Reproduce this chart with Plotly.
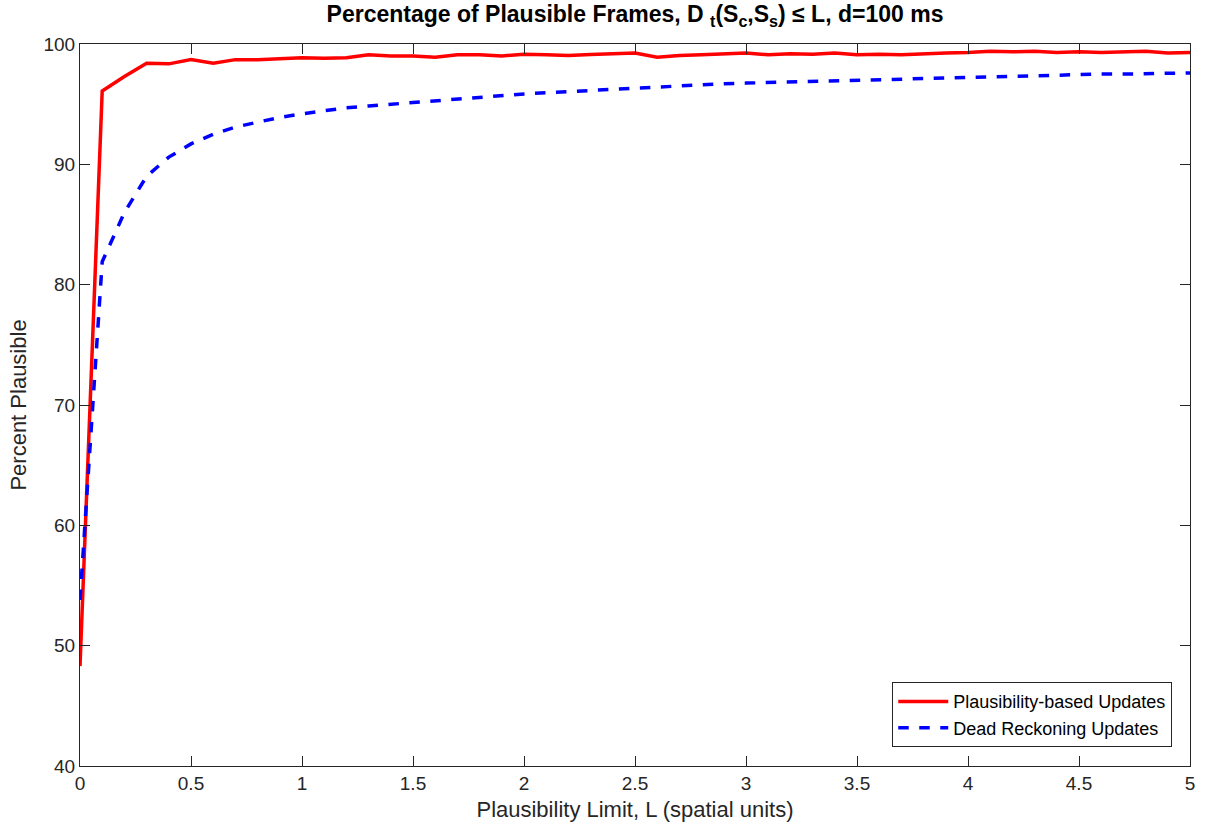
import plotly.graph_objects as go

limits = [round(i * 0.1, 1) for i in range(51)]

plausibility_based = [48.3, 96.1, 97.3, 98.4, 98.35, 98.7, 98.4, 98.7, 98.7, 98.8,
                      98.85, 98.82, 98.85, 99.1, 99.0, 99.0, 98.9, 99.1, 99.1, 99.0,
                      99.15, 99.1, 99.05, 99.12, 99.2, 99.25, 98.9, 99.05, 99.1, 99.2,
                      99.25, 99.1, 99.2, 99.15, 99.25, 99.1, 99.15, 99.1, 99.2, 99.25,
                      99.3, 99.4, 99.35, 99.4, 99.3, 99.35, 99.3, 99.35, 99.4, 99.25,
                      99.3]

dead_reckoning = [53.8, 81.9, 86.0, 89.0, 90.6, 91.7, 92.5, 93.1, 93.5, 93.9,
                  94.2, 94.45, 94.7, 94.85, 95.0, 95.15, 95.3, 95.45, 95.6, 95.75,
                  95.85, 95.95, 96.05, 96.15, 96.25, 96.35, 96.45, 96.55, 96.6, 96.7,
                  96.75, 96.8, 96.85, 96.9, 96.95, 97.0, 97.05, 97.1, 97.15, 97.2,
                  97.25, 97.3, 97.3, 97.35, 97.4, 97.45, 97.5, 97.5, 97.55, 97.6,
                  97.6]

x_ticks = [0, 0.5, 1, 1.5, 2, 2.5, 3, 3.5, 4, 4.5, 5]
x_tick_text = ["0", "0.5", "1", "1.5", "2", "2.5", "3", "3.5", "4", "4.5", "5"]
y_ticks = [40, 50, 60, 70, 80, 90, 100]

fig = go.Figure()
fig.add_trace(go.Scatter(x=limits, y=plausibility_based, mode="lines",
                         name="Plausibility-based Updates",
                         line=dict(color="#ff0000", width=3.5)))
fig.add_trace(go.Scatter(x=limits, y=dead_reckoning, mode="lines",
                         name="Dead Reckoning Updates",
                         line=dict(color="#0000ff", width=3.5, dash="dash")))

axis_color = "#262626"
font_family = "Liberation Sans, Arial, Helvetica, sans-serif"

fig.update_layout(
    width=1207, height=834,
    margin=dict(l=80, r=17, t=44, b=68),
    paper_bgcolor="white", plot_bgcolor="white",
    font=dict(family=font_family, size=19, color=axis_color),
    title=dict(text="<b>Percentage of Plausible Frames, D <sub>t</sub>(S<sub>c</sub>,S<sub>s</sub>) ≤ L, d=100 ms</b>",
               x=0.5, xref="paper", xanchor="center", y=0.993, yanchor="top",
               font=dict(size=23, color="black")),
    showlegend=True,
    legend=dict(x=0.984, y=0.026, xanchor="right", yanchor="bottom",
                bgcolor="white", bordercolor=axis_color, borderwidth=1,
                font=dict(size=18, color="black"), tracegroupgap=0,
                itemwidth=50),
    xaxis=dict(range=[0, 5], tickvals=x_ticks, ticktext=x_tick_text,
               ticks="inside", ticklen=10, tickcolor=axis_color, mirror="ticks",
               showline=True, linecolor=axis_color, linewidth=1, showgrid=False,
               zeroline=False,
               title=dict(text="Plausibility Limit, L (spatial units)", font=dict(size=22), standoff=8)),
    yaxis=dict(range=[40, 100], tickvals=y_ticks,
               ticks="inside", ticklen=10, tickcolor=axis_color, mirror="ticks",
               showline=True, linecolor=axis_color, linewidth=1, showgrid=False,
               zeroline=False,
               title=dict(text="Percent Plausible", font=dict(size=22), standoff=10)),
)

fig.write_html("out.html")
